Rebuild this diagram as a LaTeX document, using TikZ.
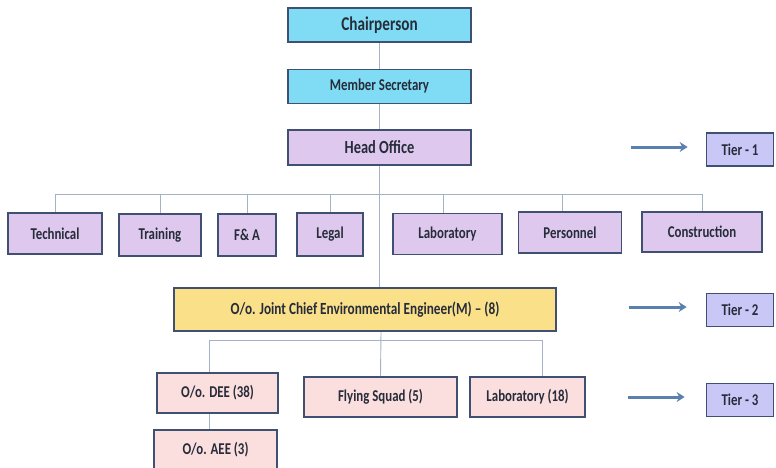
\documentclass[tikz,border=0pt]{standalone}
\usepackage{fontspec}
\setmainfont{Carlito}[FakeStretch=0.78]
\usetikzlibrary{arrows.meta}
\definecolor{boxline}{HTML}{3F5072}
\definecolor{linkgray}{HTML}{A3B2C4}
\definecolor{arrowblue}{HTML}{5A80B0}
\definecolor{cyanbox}{HTML}{80DCF4}
\definecolor{lilac}{HTML}{DEC8EE}
\definecolor{tierfill}{HTML}{C9C7F6}
\definecolor{goldbox}{HTML}{FBE08A}
\definecolor{rosebox}{HTML}{FBDEDE}
\definecolor{inktext}{HTML}{262C3A}

\begin{document}
\begin{tikzpicture}[x=1pt, y=-1pt,
    unit/.style={draw=boxline, line width=1.7pt, inner sep=0pt, text=inktext,
                 font=\fontsize{16.5}{19}\selectfont\bfseries},
    big/.style={font=\fontsize{#1}{20}\selectfont\bfseries},
    top/.style={unit, fill=cyanbox, minimum width=183pt, minimum height=34pt},
    dept/.style={unit, fill=lilac, minimum height=41pt},
    tier/.style={unit, fill=tierfill, minimum width=67pt, minimum height=33pt},
    link/.style={draw=linkgray, line width=0.9pt},
    tierarrow/.style={draw=arrowblue, line width=3pt, -{Stealth[length=8pt,width=10pt]}}]
    \useasboundingbox (0,0) rectangle (776,467);

    \draw 
    (379.5, 25) node[top, big=19.5](chair){Chairperson}
    (379.5, 86.5) node[top](secy){Member Secretary}
    (379.5, 147.5) node[dept, big=18.5, minimum width=183pt, minimum height=35pt](head){Head Office};

    \draw 
    (55, 233.5) node[dept, minimum width=94pt](tech){Technical}
    (160, 235) node[dept, minimum width=82pt, minimum height=42pt](train){Training}
    (247, 235) node[dept, minimum width=58pt, minimum height=42pt](fa){F\& A}
    (330, 234.5) node[dept, minimum width=66pt, minimum height=43pt](legal){Legal}
    (447.5, 234) node[dept, minimum width=109pt](lab){Laboratory}
    (570, 232.5) node[dept, minimum width=103pt](pers){Personnel}
    (702, 232) node[dept, minimum width=120pt, minimum height=40pt](cons){Construction};

    \draw 
    (365, 309.5) node[unit, big=17, fill=goldbox, minimum width=382pt, minimum height=43pt](jce){O/o. Joint Chief Environmental Engineer(M) -- (8)}
    (217.5, 393) node[unit, fill=rosebox, minimum width=121pt, minimum height=40pt](dee){O/o. DEE (38)}
    (380.5, 397) node[unit, fill=rosebox, minimum width=153pt, minimum height=40pt](squad){Flying Squad (5)}
    (527.5, 397) node[unit, fill=rosebox, minimum width=115pt, minimum height=40pt](lab18){Laboratory (18)}
    (215.5, 450) node[unit, fill=rosebox, minimum width=123pt, minimum height=40pt](aee){O/o. AEE (3)};

    \draw 
    (740, 149.5) node[tier](t1){Tier - 1}
    (740, 310) node[tier](t2){Tier - 2}
    (740, 400) node[tier](t3){Tier - 3};

    \coordinate (upbus) at (379.5, 194);
    \coordinate (lowbus) at (381, 340);

    \draw[link] (chair) -- (secy);
    \draw[link] (secy) -- (head);
    \draw[link] (head.south) -- (head.south |- jce.north);
    \draw[link] (upbus) -| (tech.north);
    \draw[link] (upbus) -| (train.north);
    \draw[link] (upbus) -| (fa.north);
    \draw[link] (upbus) -| (legal.north);
    \draw[link] (upbus) -| ([xshift=-4pt]lab.north);
    \draw[link] (upbus) -| ([xshift=-8pt]pers.north);
    \draw[link] (upbus) -| (cons.north);

    \draw[link] (lowbus |- jce.south) -- (squad.north);
    \draw[link] (lowbus) -| ([xshift=-8pt]dee.north);
    \draw[link] (lowbus) -| ([xshift=15pt]lab18.north);
    \draw[link] ([xshift=-8pt]dee.south) -- ([xshift=-8pt]dee.south |- aee.north);

    \draw[tierarrow] ([xshift=-75pt, yshift=2.5pt]t1.west) -- ([xshift=-18pt, yshift=2.5pt]t1.west);
    \draw[tierarrow] ([xshift=-77pt, yshift=3pt]t2.west) -- ([xshift=-19pt, yshift=3pt]t2.west);
    \draw[tierarrow] ([xshift=-78pt, yshift=3pt]t3.west) -- ([xshift=-21pt, yshift=3pt]t3.west);

  \end{tikzpicture}
\end{document}
